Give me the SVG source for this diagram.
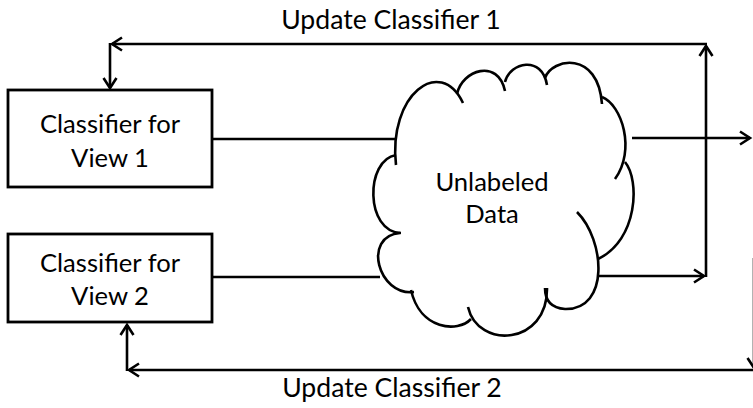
<svg xmlns="http://www.w3.org/2000/svg" width="753" height="408" viewBox="0 0 753 408">
  <style>
    .box { fill: #fff; stroke: #000; stroke-width: 2.8; }
    .line { fill: none; stroke: #000; stroke-width: 2.6; }
    .cloud path { fill: none; stroke: #000; stroke-width: 2.6; stroke-linecap: butt; }
    .lbl { font-family: Lato, "Open Sans", sans-serif; font-size: 25.6px; fill: #000; text-anchor: middle; }
    .loop { font-size: 26.6px; }
  </style>
  <defs>
    <marker id="arrow" markerUnits="userSpaceOnUse" markerWidth="16" markerHeight="18" viewBox="-13 -9 16 18" refX="0" refY="0" orient="auto">
      <path d="M-10,-6.5 L0,0 L-10,6.5" fill="none" stroke="#000" stroke-width="2.6"/>
    </marker>
  </defs>

  <rect width="753" height="408" fill="#fff"/>

  <!-- connectors -->
  <g id="connectors">
    <line class="line" x1="212" y1="139" x2="395" y2="139"/>
    <line class="line" x1="632" y1="138" x2="750" y2="138" marker-end="url(#arrow)"/>
    <line class="line" x1="212" y1="277" x2="380" y2="277"/>
    <line class="line" x1="598" y1="276" x2="704" y2="276" marker-end="url(#arrow)"/>
    <line class="line" x1="706" y1="277" x2="706" y2="46" marker-end="url(#arrow)"/>
    <line class="line" x1="707" y1="44" x2="112" y2="44" marker-end="url(#arrow)"/>
    <line class="line" x1="110" y1="43" x2="110" y2="88" marker-end="url(#arrow)"/>
    <line class="line" x1="753" y1="370" x2="129" y2="370" marker-end="url(#arrow)"/>
    <line class="line" x1="127" y1="371" x2="127" y2="325" marker-end="url(#arrow)"/>
    <line class="line" x1="754" y1="258" x2="754" y2="368" marker-end="url(#arrow)"/>
  </g>

  <!-- classifier boxes -->
  <g id="classifier1">
    <rect class="box" x="8" y="90" width="204" height="97"/>
    <text class="lbl" x="110" y="133">Classifier for</text>
    <text class="lbl" x="110" y="167">View 1</text>
  </g>
  <g id="classifier2">
    <rect class="box" x="8" y="234" width="204" height="88"/>
    <text class="lbl" x="110" y="272">Classifier for</text>
    <text class="lbl" x="110" y="305">View 2</text>
  </g>

  <!-- unlabeled data cloud -->
  <g id="data" class="cloud">
    <path d="M396,165 C388,95 440,55 463,103"/>
    <path d="M457,94 C462,70 498,58 505,91"/>
    <path d="M505,82 C510,62 542,55 547,85"/>
    <path d="M545,78 C552,58 598,50 602,104"/>
    <path d="M602,97 C622,105 636,150 615,179"/>
    <path d="M625,162 C640,180 638,240 598,259"/>
    <path d="M577,212 C605,240 610,310 565,309 C550,308 545,300 545,288"/>
    <path d="M547,288 C548,345 478,350 468,307"/>
    <path d="M471,319 C458,333 420,330 411,290"/>
    <path d="M414,292 C378,296 362,236 400,233"/>
    <path d="M401,233 C365,232 365,160 396,155"/>
    <text class="lbl" x="492" y="191">Unlabeled</text>
    <text class="lbl" x="492" y="223">Data</text>
  </g>

  <!-- loop labels -->
  <g id="update1">
    <text class="lbl loop" x="391" y="29">Update Classifier 1</text>
  </g>
  <g id="update2">
    <text class="lbl loop" x="392" y="397">Update Classifier 2</text>
  </g>
</svg>
